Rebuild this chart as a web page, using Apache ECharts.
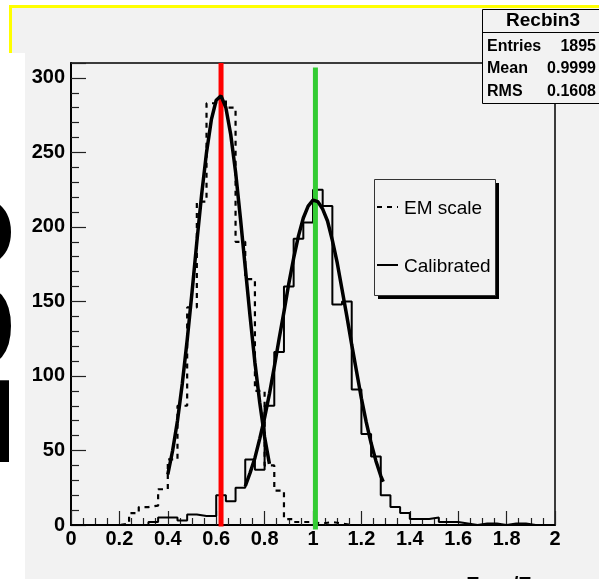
<!DOCTYPE html>
<html><head><meta charset="utf-8">
<script src="https://cdn.jsdelivr.net/npm/echarts@6/dist/echarts.min.js"></script>
<style>
html,body{margin:0;padding:0;background:#fff;width:599px;height:579px;overflow:hidden;}
#panel{position:absolute;left:9px;top:5px;width:590px;height:574px;background:#f2f2f2;border-top:3px solid #ffff00;border-left:3px solid #ffff00;box-sizing:border-box;}
#strip{position:absolute;left:0;top:53px;width:25px;height:526px;background:#fff;}
#c{position:absolute;left:0;top:0;width:599px;height:579px;}
</style>
</head><body>
<div id="panel"></div><div id="strip"></div>
<div id="c"></div>
<script>
// ---- data ----
const binStart = 0;
const binWidth = 0.04;
// EM scale histogram (dashed), 50 bins of 0.04 from 0 to 2
const emScale = [0,0,0,0,0,1,8,12,13,24, 44,80,146,217,283,286,280,190,165,90, 40,23,4,2,2,1,2,1,0,0, 0,0,0,0,0,0,0,0,0,0, 0,0,0,0,0,0,0,0,0,0];
// Calibrated histogram (solid)
const calibrated = [0,0,0,0,0,0,0,0,2,5, 5,3,7,6,6,20,16,25,44,37, 80,116,160,192,203,225,214,148,150,91, 61,46,20,12,8,4,4,5,2,2, 1,0,1,1,0,1,1,0,0,0];
// Gaussian fit curves
const fitEmX = [0.40,0.42,0.44,0.46,0.48,0.50,0.52,0.54,0.56,0.58,0.60,0.62,0.64,0.66,0.68,0.70,0.72,0.74,0.76,0.78,0.80,0.82];
const fitEmY = [34,50,70,95,124,156,190,222,250,272,285,288,280,262,237,206,173,140,109,82,59,41];
const fitCalX = [0.72,0.74,0.76,0.78,0.80,0.82,0.84,0.86,0.88,0.90,0.92,0.94,0.96,0.98,1.00,1.02,1.04,1.06,1.08,1.10,1.12,1.14,1.16,1.18,1.20,1.22,1.24,1.26,1.28,1.29];
const fitCalY = [26,35,45,58,72,88,106,125,143,162,179,194,206,214,218,217,212,204,191,176,158,140,121,103,85,69,55,43,33,29];
// vertical marker lines (peak positions)
const markerX = [0.62, 1.01];
const markerTop = [310, 307];
const markerBottom = [-1, -3];
const markerColor = ['#ff0000', '#33cc33'];
const seriesNames = ['EM scale', 'Calibrated'];
const statsTitle = 'Recbin3';
const statsLabels = ['Entries', 'Mean', 'RMS'];
const statsValues = ['1895', '0.9999', '0.1608'];
const sideText = '280';

function histData(vals) {
  const d = vals.map((v, i) => [binStart + i * binWidth, v]);
  d.push([binStart + vals.length * binWidth, vals[vals.length - 1]]);
  return d;
}
function pairs(xs, ys) { return xs.map((x, i) => [x, ys[i]]); }

const FONT = 'Liberation Sans, Arial, Helvetica, sans-serif';
const chart = echarts.init(document.getElementById('c'), null, {renderer: 'canvas'});

const series = [
  {name: seriesNames[0], type: 'line', step: 'end', symbol: 'none', data: histData(emScale),
   lineStyle: {color: '#000', width: 2.2, type: [5, 5]}, z: 2},
  {name: seriesNames[1], type: 'line', step: 'end', symbol: 'none', data: histData(calibrated),
   lineStyle: {color: '#000', width: 2}, z: 2}
];
markerX.forEach((x, i) => {
  series.push({type: 'line', symbol: 'none', clip: false, silent: true,
    data: [[x, markerBottom[i]], [x, markerTop[i]]],
    lineStyle: {color: markerColor[i], width: 5}, z: 3});
});
series.push({type: 'line', symbol: 'none', data: pairs(fitEmX, fitEmY), lineStyle: {color: '#000', width: 3.5}, z: 4});
series.push({type: 'line', symbol: 'none', data: pairs(fitCalX, fitCalY), lineStyle: {color: '#000', width: 3.5}, z: 4});

const statsGraphics = [
  {type: 'rect', shape: {x: 482.5, y: 9.5, width: 130, height: 94}, style: {fill: '#f2f2f2', stroke: '#000', lineWidth: 1}},
  {type: 'line', shape: {x1: 482.5, y1: 32.5, x2: 612, y2: 32.5}, style: {stroke: '#000', lineWidth: 1}},
  {type: 'text', x: 543, y: 21, style: {text: statsTitle, fontSize: 19, fontWeight: 'bold', fontFamily: FONT, fill: '#000', align: 'center', verticalAlign: 'middle'}}
];
const rowY = [47, 69, 92];
statsLabels.forEach((lab, i) => {
  statsGraphics.push({type: 'text', x: 487, y: rowY[i], style: {text: lab, fontSize: 16, fontWeight: 'bold', fontFamily: FONT, fill: '#000', align: 'left', verticalAlign: 'middle'}});
  statsGraphics.push({type: 'text', x: 596, y: rowY[i], style: {text: statsValues[i], fontSize: 16, fontWeight: 'bold', fontFamily: FONT, fill: '#000', align: 'right', verticalAlign: 'middle'}});
});

// legend box drawn like ROOT TLegend (box with drop shadow)
const legendGraphics = [
  {type: 'rect', shape: {x: 378, y: 183, width: 121, height: 116}, style: {fill: '#000'}},
  {type: 'rect', shape: {x: 374.5, y: 179.5, width: 121, height: 116}, style: {fill: '#f2f2f2', stroke: '#333', lineWidth: 1}},
  {type: 'line', shape: {x1: 377, y1: 207, x2: 398, y2: 207}, style: {stroke: '#000', lineWidth: 2, lineDash: [5, 5]}},
  {type: 'text', x: 404, y: 209, style: {text: seriesNames[0], fontSize: 19, fontFamily: FONT, fill: '#000', align: 'left', verticalAlign: 'middle'}},
  {type: 'line', shape: {x1: 377, y1: 265, x2: 398, y2: 265}, style: {stroke: '#000', lineWidth: 2}},
  {type: 'text', x: 404, y: 267, style: {text: seriesNames[1], fontSize: 19, fontFamily: FONT, fill: '#000', align: 'left', verticalAlign: 'middle'}}
];

chart.setOption({
  animation: false,
  backgroundColor: 'transparent',
  grid: {left: 71, top: 63, right: 44, bottom: 54, show: true, borderColor: '#000', borderWidth: 1.5,
         backgroundColor: 'transparent', outerBoundsMode: 'none', containLabel: false},
  xAxis: {
    type: 'value', min: 0, max: 2, interval: 0.2,
    axisLine: {show: true, lineStyle: {color: '#000', width: 2}},
    axisTick: {show: true, inside: true, length: 14, lineStyle: {color: '#222', width: 1.2}},
    minorTick: {show: true, splitNumber: 4, length: 7, lineStyle: {color: '#222', width: 1.2}},
    splitLine: {show: false},
    axisLabel: {fontSize: 20, fontWeight: 'bold', fontFamily: FONT, color: '#000', margin: 4},
    name: '{e|E}{s|Rec}{e| /E}{s|MC}', nameLocation: 'end', nameGap: 0,
    nameTextStyle: {align: 'right', verticalAlign: 'top', padding: [50, 0, 0, 0],
      rich: {e: {fontSize: 20, fontWeight: 'bold', fontFamily: FONT, color: '#000'},
             s: {fontSize: 15, fontWeight: 'bold', fontFamily: FONT, color: '#000', verticalAlign: 'bottom'}}}
  },
  yAxis: {
    type: 'value', min: 0, max: 310, interval: 50,
    axisLine: {show: true, lineStyle: {color: '#000', width: 2}},
    axisTick: {show: true, inside: true, length: 15, lineStyle: {color: '#222', width: 1.2}},
    minorTick: {show: true, splitNumber: 5, length: 8, lineStyle: {color: '#222', width: 1.2}},
    splitLine: {show: false},
    axisLabel: {fontSize: 20, fontWeight: 'bold', fontFamily: FONT, color: '#000', margin: 6, showMaxLabel: false}
  },
  graphic: [
    {type: 'group', z: 100, children: statsGraphics},
    {type: 'group', z: 100, children: legendGraphics},
    {type: 'text', z: 100, x: -38, y: 468, rotation: Math.PI / 2,
     style: {text: sideText, fontSize: 170, fontWeight: 'bold', fontFamily: FONT, fill: '#000', align: 'left', verticalAlign: 'middle'}}
  ],
  series: series
});
</script>
</body></html>
